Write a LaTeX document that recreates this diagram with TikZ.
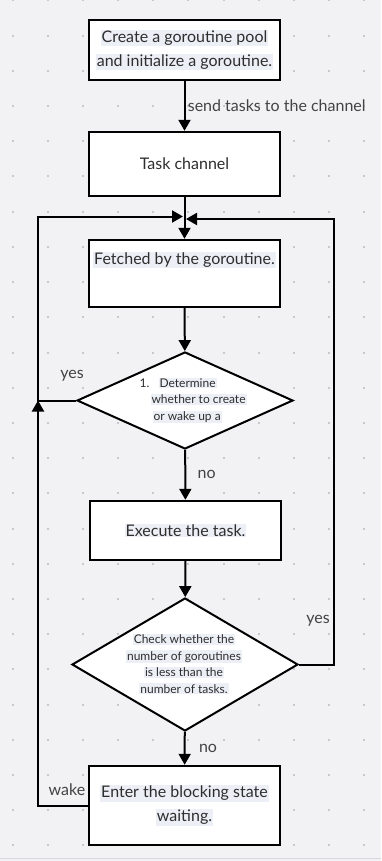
\documentclass[tikz,border=0pt]{standalone}
\usepackage{fontspec}
\setmainfont{Lato}
\usetikzlibrary{arrows.meta}
\usetikzlibrary{shapes.geometric}

\definecolor{bggray}{HTML}{F2F2F5}
\definecolor{dotgray}{HTML}{C8C8CD}
\definecolor{hlgray}{HTML}{ECEFF5}
\definecolor{txtgray}{HTML}{2E2E2E}

% light marker behind a piece of text
\newcommand{\hl}[1]{{\setlength{\fboxsep}{1pt}\colorbox{hlgray}{#1}}}

\tikzset{
  stepbox/.style={draw, line width=2.4pt, fill=white, minimum width=191pt,
    text=txtgray, align=center, font=\fontsize{16}{24}\selectfont},
  choice/.style={draw, diamond, line width=2pt, fill=white, inner sep=0pt},
  question/.style={text=txtgray, font=\fontsize{12}{16.5}\selectfont},
  flow/.style={line width=2pt, -{Triangle[length=11pt,width=12pt]}},
  tag/.style={text=txtgray!90, font=\fontsize{16}{18}\selectfont},
}

\begin{document}
\begin{tikzpicture}[x=1pt, y=-1pt]
\useasboundingbox (0,0) rectangle (381,861);
\fill[bggray] (0,0) rectangle (381,861);
\draw[dotgray!70, line width=1pt] (0,858.5) -- (381,858.5);
\foreach \i in {0,...,10}
  \foreach \j in {0,...,24}
    \fill[dotgray] (11.7+35.15*\i, 35.2*\j-0.5) rectangle ++(2,2);

% boxes and decisions
\node[stepbox, minimum height=60pt] (create)  at (184.5, 50)
  {\hl{Create a goroutine pool}\\\hl{and initialize a goroutine.}};
\node[stepbox, minimum height=64pt] (channel) at (184.5, 164) {Task channel};
\node[stepbox, minimum height=67pt] (fetched) at (184.5, 273.5)
  {\hl{Fetched by the goroutine.}\\\strut};
\node[choice, minimum width=216pt, minimum height=97pt] (det) at (185, 400.5) {};
\node[question, align=left, anchor=west] (detq) at (147, 400.5)
  {\llap{1.\hspace{1pt}}\hspace{8pt}\hl{Determine}\\\hl{whether to create}\\\hspace{2pt}\hl{or wake up a}};
\node[stepbox, minimum height=59pt] (exec)    at (185.5, 530.5) {\hl{Execute the task.}};
\node[choice, minimum width=226pt, minimum height=133pt] (check) at (185, 664.5) {};
\node[question, align=center] (checkq) at (184, 664)
  {\hl{Check whether the}\\\hl{number of goroutines}\\\hl{is less than the}\\\hl{number of tasks.}};
\node[stepbox, minimum height=79pt] (block)   at (184.5, 805.5)
  {\hl{Enter the blocking state}\\\hl{waiting.}};

% where the two loops come back in
\coordinate (inL) at (183, 216.5);
\coordinate (inR) at (186, 219);

% connectors
\draw[flow] (create) -- (channel)
  node[tag, midway, anchor=west, xshift=-1pt] {send tasks to the channel};
\draw[flow] (channel) -- (fetched);
\draw[flow] (fetched) -- (det);
\draw[flow] (det) -- (exec) node[tag, midway, anchor=west, xshift=8pt] {no};
\draw[flow] (exec) -- (check);
\draw[flow] (check) -- (block) node[tag, midway, anchor=west, xshift=10pt] {no};

\draw[flow] (det.west) -- (38, 400.5) -- (38, 216.5) -- (inL);
\draw[flow] (block.west) -- (38, 805.5) -- (38, 400.5);
\draw[flow] (check.east) -- (334, 664.5) -- (334, 219) -- (inR);

\node[tag] (yesL) at (72, 376) {yes};
\node[tag] (yesR) at (318, 621) {yes};
\node[tag] (wake) at (67, 790) {wake};
\end{tikzpicture}
\end{document}
